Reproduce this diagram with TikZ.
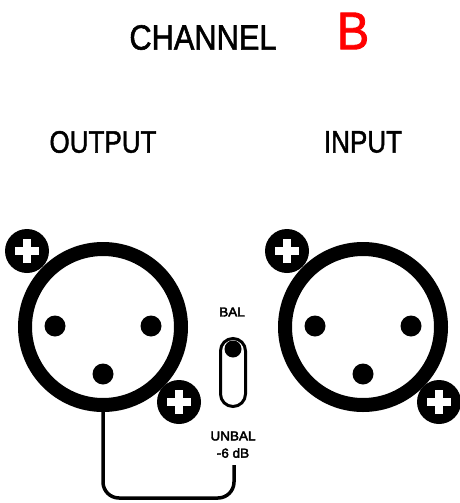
\documentclass[tikz,border=0pt]{standalone}
\usepackage{fontspec}
\setmainfont[FakeBold=1.6]{Liberation Sans}
\newfontfamily\labelfont[FakeBold=3]{Liberation Sans}
\definecolor{channelred}{RGB}{255,0,0}
\tikzset{
    xlrring/.style={draw=black, line width=14pt, circle, inner sep=0pt, minimum size=156pt},
    xlrpin/.style={fill=black, circle, inner sep=0pt, minimum size=21pt},
    xlrscrew/.style={fill=black, circle, inner sep=0pt, minimum size=44pt},
    screwcross/.style={draw=white, line width=8pt},
    bigtitle/.style={font=\fontsize{35}{35}\selectfont, xscale=0.88, transform shape, inner sep=0pt},
    jacktitle/.style={font=\fontsize{31}{31}\selectfont, xscale=0.84, transform shape, inner sep=0pt},
    smalltitle/.style={font=\labelfont\fontsize{13}{13}\selectfont, xscale=1.04, transform shape, inner sep=0pt},
    cablewire/.style={draw=black, line width=3.5pt, rounded corners=16pt},
}
\begin{document}
\begin{tikzpicture}[x=1pt, y=-1pt]
    \useasboundingbox (0,0) rectangle (460,503);

    % Titles
    \node[bigtitle] (channel) at (203,37.5) {CHANNEL};
    \node[font=\fontsize{53}{53}\selectfont, text=channelred, xscale=0.92, transform shape, inner sep=0pt] (letter) at (353,31) {B};
    \node[jacktitle] (outlabel) at (103,142) {OUTPUT};
    \node[jacktitle] (inlabel) at (363,142) {INPUT};

    % Connectors
    \foreach \jack/\cx in {out/103, in/363} {
        \node[xlrring] (\jack ring) at (\cx,327) {};
        \node[xlrpin] (\jack pinl) at (\cx-48,326) {};
        \node[xlrpin] (\jack pinr) at (\cx+48,326) {};
        \node[xlrpin] (\jack pinb) at (\cx,374) {};
        \node[xlrscrew] (\jack screwa) at (\cx-76,251) {};
        \node[xlrscrew] (\jack screwb) at (\cx+76,402) {};
        \foreach \sc in {screwa, screwb} {
            \draw[screwcross] ([xshift=-12pt]\jack\sc.center) -- ([xshift=12pt]\jack\sc.center);
            \draw[screwcross] ([yshift=-12pt]\jack\sc.center) -- ([yshift=12pt]\jack\sc.center);
        }
    }

    % Switch
    \node[smalltitle] (ballabel) at (232,312) {BAL};
    \node[draw=black, line width=3pt, rounded corners=12.5pt, inner sep=0pt, minimum width=25pt, minimum height=68pt] (switch) at (233,372.5) {};
    \node[xlrpin, minimum size=17pt] (knob) at (233,349) {};
    \node[smalltitle] (unballabel) at (233,436) {UNBAL};
    \node[smalltitle] (dblabel) at (233,453) {-6 dB};

    % Cable
    \coordinate (cablelow) at (170,498);
    \coordinate (cableend) at (234,465);
    \draw[cablewire] (outring.south) |- (cablelow) -| (cableend);
\end{tikzpicture}
\end{document}
